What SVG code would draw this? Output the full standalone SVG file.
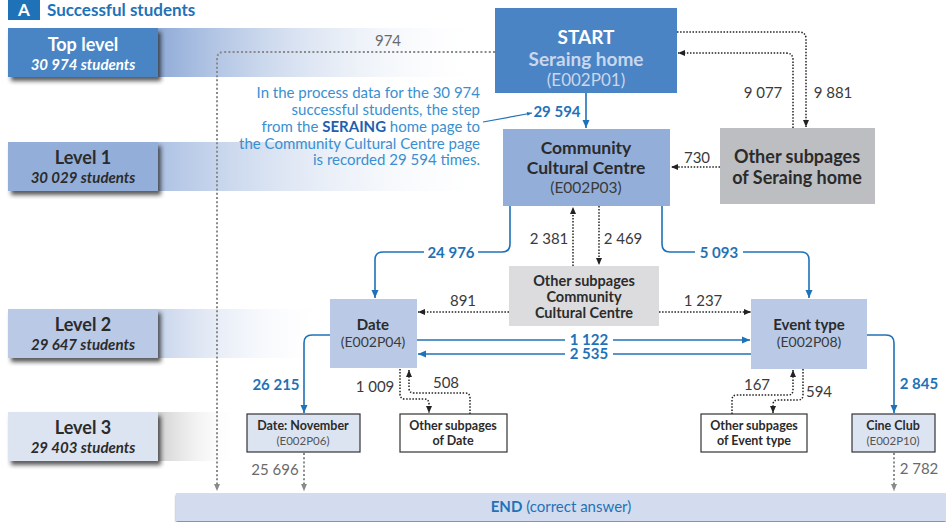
<svg xmlns="http://www.w3.org/2000/svg" width="946" height="522" viewBox="0 0 946 522">
<defs>
<style>
text{font-family:Lato,"Open Sans","Liberation Sans",sans-serif}
.lvt{font-size:18px;font-weight:bold;fill:#2b2b2b;text-anchor:middle}
.lvs{font-size:15px;font-weight:bold;font-style:italic;fill:#2b2b2b;text-anchor:middle}
.nb{font-weight:bold;fill:#2b2b2b;text-anchor:middle}
.nc{fill:#3a3a3a;text-anchor:middle}
.num{font-size:15px;fill:#3a3a3a}
.gnum{font-size:15px;fill:#6a6a6a}
.bnum{font-size:15px;font-weight:bold;fill:#1f72b8}
.ann{font-size:15px;fill:#3a8fd0;text-anchor:end}
.blue{fill:none;stroke:#1f72b8;stroke-width:1.6}
.dot{fill:none;stroke:#222;stroke-width:1.5;stroke-dasharray:1.5 1.6}
.gdot{fill:none;stroke:#8a8a8a;stroke-width:2;stroke-dasharray:2 2.2}
.gap{fill:#ffffff}
</style>
<linearGradient id="g0" x1="0" x2="1" y1="0" y2="0"><stop offset="0" stop-color="#8aa7d6"/><stop offset="1" stop-color="#ffffff" stop-opacity="0"/></linearGradient>
<linearGradient id="g1" x1="0" x2="1" y1="0" y2="0"><stop offset="0" stop-color="#a9bfe2"/><stop offset="1" stop-color="#ffffff" stop-opacity="0"/></linearGradient>
<linearGradient id="g2" x1="0" x2="1" y1="0" y2="0"><stop offset="0" stop-color="#c3d1ea"/><stop offset="1" stop-color="#ffffff" stop-opacity="0"/></linearGradient>
<linearGradient id="g3" x1="0" x2="1" y1="0" y2="0"><stop offset="0" stop-color="#c8c8c8"/><stop offset="1" stop-color="#ffffff" stop-opacity="0"/></linearGradient>
<filter id="sh" x="-10%" y="-20%" width="130%" height="150%"><feDropShadow dx="3" dy="4" stdDeviation="2" flood-color="#222" flood-opacity="0.75"/></filter>
<filter id="sh2" x="-5%" y="-20%" width="110%" height="160%"><feDropShadow dx="0" dy="2" stdDeviation="1" flood-color="#555" flood-opacity="0.7"/></filter>
<marker id="ab" markerUnits="userSpaceOnUse" markerWidth="10" markerHeight="10" viewBox="0 0 10 10" refX="9" refY="5" orient="auto"><path d="M1,1.5 L9,5 L1,8.5 Z" fill="#1f72b8"/></marker>
<marker id="ak" markerUnits="userSpaceOnUse" markerWidth="8" markerHeight="8" viewBox="0 0 8 8" refX="7.5" refY="4" orient="auto"><path d="M0.5,1 L7.5,4 L0.5,7 Z" fill="#222"/></marker>
<marker id="ag" markerUnits="userSpaceOnUse" markerWidth="8" markerHeight="8" viewBox="0 0 8 8" refX="7.5" refY="4" orient="auto"><path d="M0.5,1 L7.5,4 L0.5,7 Z" fill="#8a8a8a"/></marker>
<marker id="as" markerUnits="userSpaceOnUse" markerWidth="6" markerHeight="6" viewBox="0 0 6 6" refX="5.5" refY="3" orient="auto"><path d="M0.5,1 L5.5,3 L0.5,5 Z" fill="#1f72b8"/></marker>
</defs>
<rect width="946" height="522" fill="#ffffff"/>

<g id="title">
<rect x="8" y="-6" width="32" height="26" fill="#1f72b8"/>
<text x="24" y="16" font-size="17" font-weight="bold" fill="#ffffff" text-anchor="middle">A</text>
<text x="47" y="16" font-size="17" font-weight="bold" fill="#1f72b8">Successful students</text>
</g>

<g id="bands">
<rect x="150" y="28" width="340" height="49" fill="url(#g0)"/>
<rect x="150" y="142" width="355" height="49" fill="url(#g1)"/>
<rect x="150" y="309" width="180" height="49" fill="url(#g2)"/>
<rect x="150" y="412" width="90" height="49" fill="url(#g3)"/>
</g>

<g id="level-top">
<rect x="8" y="28" width="150" height="49" fill="#4a84c4" filter="url(#sh)"/>
<text x="83" y="51" class="lvt" style="fill:#ffffff">Top level</text>
<text x="83" y="70" class="lvs" style="fill:#ffffff">30 974 students</text>
</g>
<g id="level-1">
<rect x="8" y="142" width="150" height="49" fill="#93afd9" filter="url(#sh)"/>
<text x="83" y="164" class="lvt">Level 1</text>
<text x="83" y="183" class="lvs">30 029 students</text>
</g>
<g id="level-2">
<rect x="8" y="309" width="150" height="49" fill="#b9c9e6" filter="url(#sh)"/>
<text x="83" y="331" class="lvt">Level 2</text>
<text x="83" y="350" class="lvs">29 647 students</text>
</g>
<g id="level-3">
<rect x="8" y="412" width="150" height="49" fill="#dce4f2" filter="url(#sh)"/>
<text x="83" y="434" class="lvt">Level 3</text>
<text x="83" y="453" class="lvs">29 403 students</text>
</g>

<g id="annotation">
<text x="480" y="98" class="ann">In the process data for the 30 974</text>
<text x="480" y="115" class="ann">successful students, the step</text>
<text x="480" y="132" class="ann">from the <tspan font-weight="bold" fill="#1f5fae">SERAING</tspan> home page to</text>
<text x="480" y="149" class="ann">the Community Cultural Centre page</text>
<text x="480" y="165" class="ann">is recorded 29 594 times.</text>
</g>

<g id="end">
<rect x="176" y="493" width="770" height="28" fill="#d3dcee" filter="url(#sh2)"/>
<text x="561" y="512" font-size="15" fill="#1f72b8" text-anchor="middle"><tspan font-weight="bold">END</tspan> (correct answer)</text>
</g>

<g id="connectors">
<path class="gdot" d="M495 52 H224 Q217 52 217 59 V491" marker-end="url(#ag)"/>
<path class="gdot" d="M304 453 V491" marker-end="url(#ag)"/>
<path class="gdot" d="M894 453 V491" marker-end="url(#ag)"/>
<path class="blue" d="M586 93 V128" marker-end="url(#ab)"/>
<path d="M483 122 L532 113" fill="none" stroke="#1f72b8" stroke-width="1.2" marker-end="url(#as)"/>
<path class="dot" d="M677 32 H799 Q806 32 806 39 V127" marker-end="url(#ak)"/>
<path class="dot" d="M793 128 V60 Q793 53 786 53 H678" marker-end="url(#ak)"/>
<path class="dot" d="M720 167 H671" marker-end="url(#ak)"/>
<path class="dot" d="M573 266 V207" marker-end="url(#ak)"/>
<path class="dot" d="M599 206 V265" marker-end="url(#ak)"/>
<path class="blue" d="M510 206 V244 Q510 252 502 252 H383 Q375 252 375 260 V298" marker-end="url(#ab)"/>
<path class="blue" d="M662 206 V244 Q662 252 670 252 H801 Q809 252 809 260 V298" marker-end="url(#ab)"/>
<path class="dot" d="M509 312 H418" marker-end="url(#ak)"/>
<path class="dot" d="M659 312 H751" marker-end="url(#ak)"/>
<path class="blue" d="M417 340 H750" marker-end="url(#ab)"/>
<path class="blue" d="M751 354 H418" marker-end="url(#ab)"/>
<path class="blue" d="M330 335 H312 Q304 335 304 343 V413" marker-end="url(#ab)"/>
<path class="blue" d="M867 335 H886 Q894 335 894 343 V413" marker-end="url(#ab)"/>
<path class="dot" d="M400 369 V394 Q400 399 405 399 H424 Q429 399 429 404 V413" marker-end="url(#ak)"/>
<path class="dot" d="M470 414 V398 Q470 393 465 393 H414 Q409 393 409 388 V370" marker-end="url(#ak)"/>
<path class="dot" d="M732 414 V400 Q732 395 737 395 H788 Q793 395 793 390 V370" marker-end="url(#ak)"/>
<path class="dot" d="M803 369 V395 Q803 400 798 400 H778 Q773 400 773 405 V413" marker-end="url(#ak)"/>
<rect class="gap" x="424" y="246" width="54" height="12"/>
<rect class="gap" x="695" y="246" width="48" height="12"/>
<rect class="gap" x="565" y="335" width="48" height="10"/>
<rect class="gap" x="565" y="349" width="48" height="10"/>
<text x="388" y="46" class="gnum" text-anchor="middle">974</text>
<text x="557" y="117" class="bnum" text-anchor="middle">29 594</text>
<text x="763" y="98" class="num" text-anchor="middle">9 077</text>
<text x="833" y="98" class="num" text-anchor="middle">9 881</text>
<text x="697" y="163" class="num" text-anchor="middle">730</text>
<text x="549" y="244" class="num" text-anchor="middle">2 381</text>
<text x="623" y="244" class="num" text-anchor="middle">2 469</text>
<text x="451" y="258" class="bnum" text-anchor="middle">24 976</text>
<text x="719" y="258" class="bnum" text-anchor="middle">5 093</text>
<text x="463" y="306" class="num" text-anchor="middle">891</text>
<text x="703" y="306" class="num" text-anchor="middle">1 237</text>
<text x="589" y="344.5" class="bnum" text-anchor="middle" font-size="14">1 122</text>
<text x="589" y="359" class="bnum" text-anchor="middle" font-size="14">2 535</text>
<text x="276" y="390" class="bnum" text-anchor="middle">26 215</text>
<text x="375" y="392" class="num" text-anchor="middle">1 009</text>
<text x="446" y="388" class="num" text-anchor="middle">508</text>
<text x="275" y="475" class="gnum" text-anchor="middle">25 696</text>
<text x="757" y="390" class="num" text-anchor="middle">167</text>
<text x="819" y="397" class="num" text-anchor="middle">594</text>
<text x="919" y="389" class="bnum" text-anchor="middle">2 845</text>
<text x="919" y="474" class="gnum" text-anchor="middle">2 782</text>
</g>

<g id="start">
<rect x="495" y="8" width="182" height="85" fill="#4a84c4"/>
<text x="586" y="44" class="nb" font-size="19" style="fill:#ffffff">START</text>
<text x="586" y="66" class="nb" font-size="19" style="fill:#c9d7ee">Seraing home</text>
<text x="586" y="86" class="nc" font-size="17" style="fill:#c9d7ee">(E002P01)</text>
</g>
<g id="ccc">
<rect x="503" y="129" width="167" height="77" fill="#93afd9"/>
<text x="586" y="154" class="nb" font-size="17.5">Community</text>
<text x="586" y="174" class="nb" font-size="17.5">Cultural Centre</text>
<text x="586" y="193" class="nc" font-size="15.5">(E002P03)</text>
</g>
<g id="other-seraing">
<rect x="720" y="128" width="155" height="76" fill="#bdbec2"/>
<text x="797" y="163" class="nb" font-size="18">Other subpages</text>
<text x="797" y="184" class="nb" font-size="18">of Seraing home</text>
</g>
<g id="other-ccc">
<rect x="509" y="266" width="150" height="60" fill="#dcdcde"/>
<text x="584" y="286" class="nb" font-size="14.5">Other subpages</text>
<text x="584" y="302" class="nb" font-size="14.5">Community</text>
<text x="584" y="318" class="nb" font-size="14.5">Cultural Centre</text>
</g>
<g id="date">
<rect x="330" y="299" width="87" height="69" fill="#b9c9e6"/>
<text x="373" y="330" class="nb" font-size="15">Date</text>
<text x="373" y="347" class="nc" font-size="14">(E002P04)</text>
</g>
<g id="event-type">
<rect x="751" y="299" width="116" height="70" fill="#b9c9e6"/>
<text x="809" y="330" class="nb" font-size="15">Event type</text>
<text x="809" y="347" class="nc" font-size="14">(E002P08)</text>
</g>
<g id="date-november">
<rect x="247" y="414" width="113" height="38" fill="#dce4f2" stroke="#333" stroke-width="1.2"/>
<text x="303" y="430" class="nb" font-size="12.5">Date: November</text>
<text x="303" y="445" class="nc" font-size="11.5" style="fill:#555">(E002P06)</text>
</g>
<g id="other-date">
<rect x="400" y="414" width="107" height="38" fill="#ffffff" stroke="#333" stroke-width="1.2"/>
<text x="453" y="430" class="nb" font-size="12.5">Other subpages</text>
<text x="453" y="445" class="nb" font-size="12.5">of Date</text>
</g>
<g id="other-event">
<rect x="701" y="414" width="106" height="38" fill="#ffffff" stroke="#333" stroke-width="1.2"/>
<text x="754" y="430" class="nb" font-size="12.5">Other subpages</text>
<text x="754" y="445" class="nb" font-size="12.5">of Event type</text>
</g>
<g id="cine-club">
<rect x="852" y="414" width="83" height="38" fill="#dce4f2" stroke="#333" stroke-width="1.2"/>
<text x="893" y="430" class="nb" font-size="12.5">Cine Club</text>
<text x="893" y="445" class="nc" font-size="11.5" style="fill:#555">(E002P10)</text>
</g>
</svg>
